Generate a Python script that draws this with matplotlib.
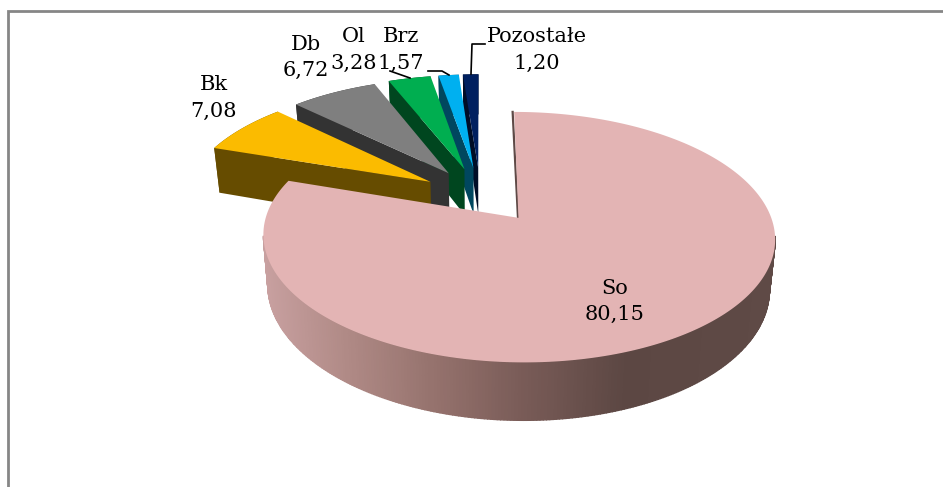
import numpy as np
import matplotlib
matplotlib.use("Agg")
import matplotlib.pyplot as plt
from matplotlib.patches import Polygon

names = ["So", "Bk", "Db", "Ol", "Brz", "Pozostałe"]
values = [80.15, 7.08, 6.72, 3.28, 1.57, 1.20]
labels = ["80,15", "7,08", "6,72", "3,28", "1,57", "1,20"]
top_colors = ["#e3b4b4", "#fbbb00", "#7f7f7f", "#00ae50", "#00b0f0", "#002060"]
side_colors = ["#5f4a47", "#664c00", "#333333", "#00461f", "#00475f", "#000d26"]
explode = [0.22, 0.25, 0.25, 0.255, 0.255, 0.255]
nudge_x = [4, 0, 0, -1, -1, -1.5]
label_xy = [(615, 288), (214, 85), (306, 44), (354, 37), (401, 37), (537, 37)]

OX, OY, A, B, K, DEPTH = 482, 196.6, 246, 115.8, 0.15, 47.7
SHRINK = 0.98

fig = plt.figure(figsize=(9.43, 4.87), dpi=100)
ax = fig.add_axes([0, 0, 1, 1])
ax.set_xlim(0, 943)
ax.set_ylim(487, 0)
ax.axis("off")


def project(u, v, low=False):
    d = 1 + K * v
    x = A * u / d
    y = OY - B * v / d
    if low:
        x = x * SHRINK
        y = y + DEPTH / d
    return OX + x, y


fracs = np.array(values) / sum(values)
edges = np.concatenate([[0], np.cumsum(fracs)]) * 2 * np.pi


def slice_geom(i):
    mid = (edges[i] + edges[i + 1]) / 2
    c = (explode[i] * np.sin(mid), explode[i] * np.cos(mid))
    th = np.linspace(edges[i], edges[i + 1], max(8, int((edges[i + 1] - edges[i]) * 90)))
    u = c[0] + np.sin(th)
    v = c[1] + np.cos(th)
    return c, th, u, v


def rim_shade(x):
    stops_x = [263, 345, 430, 520, 625, 776]
    r = np.interp(x, stops_x, [200, 176, 150, 122, 92, 95])
    g = np.interp(x, stops_x, [160, 138, 115, 92, 71, 74])
    b = np.interp(x, stops_x, [160, 134, 110, 88, 67, 70])
    return (r / 255, g / 255, b / 255)


for i in [5, 4, 3, 2, 1, 0]:
    c, th, u, v = slice_geom(i)
    dx = nudge_x[i]
    ax_top, ay_top = project(c[0], c[1])
    ax_low, ay_low = project(c[0], c[1], True)
    ax_top += dx
    ax_low += dx
    xt, yt = project(u, v)
    xl, yl = project(u, v, True)
    xt = xt + dx
    xl = xl + dx
    if i == 0:
        # thin cut face beside the start of the slice
        ax.plot([xt[0] - 1.5, ax_top - 0.5], [yt[0], ay_top], color="#5f4a47", lw=1.6, zorder=5)
        vis = np.where((th > np.radians(98)) & (th < np.radians(262)))[0]
        for j in vis[:-1]:
            quad = [(xt[j], yt[j]), (xt[j + 1], yt[j + 1]), (xl[j + 1], yl[j + 1]), (xl[j], yl[j])]
            col = rim_shade((xt[j] + xt[j + 1]) / 2)
            ax.add_patch(Polygon(quad, closed=True, fc=col, ec=col, lw=1.0, zorder=5))
    else:
        z = 10 - i
        outer = np.column_stack([xt, yt])
        # outer wall, then the cut faces on both edges
        ax.add_patch(Polygon(np.vstack([outer, np.column_stack([xl, yl])[::-1]]),
                             closed=True, fc=side_colors[i], ec="none", zorder=z))
        ax.add_patch(Polygon([(xt[0], yt[0]), (ax_top, ay_top), (ax_low, ay_low), (xl[0], yl[0])],
                             closed=True, fc=side_colors[i], ec="none", zorder=z))
    ztop = 12 if i == 0 else 10 - i + 0.5
    ax.add_patch(Polygon(np.vstack([[ax_top, ay_top], np.column_stack([xt, yt])]),
                         closed=True, fc=top_colors[i], ec="none", zorder=ztop))

# chart frame
ax.plot([8, 8, 943], [487, 10.5, 10.5], color="#868686", lw=2, zorder=1, solid_joinstyle="miter")

# leader lines
for xs, ys in [([390, 410], [71, 78]), ([428, 442, 449], [71, 71, 75]), ([485, 472, 471], [44, 44, 74])]:
    ax.plot(xs, ys, color="black", lw=1.2, zorder=20)

for n, l, (x, y) in zip(names, labels, label_xy):
    ax.text(x, y, n, ha="center", va="center", fontsize=15, family="DejaVu Serif", color="black", zorder=21)
    ax.text(x, y + 26.5, l, ha="center", va="center", fontsize=15, family="DejaVu Serif", color="black", zorder=21)

fig.savefig("out.png", dpi=100)
